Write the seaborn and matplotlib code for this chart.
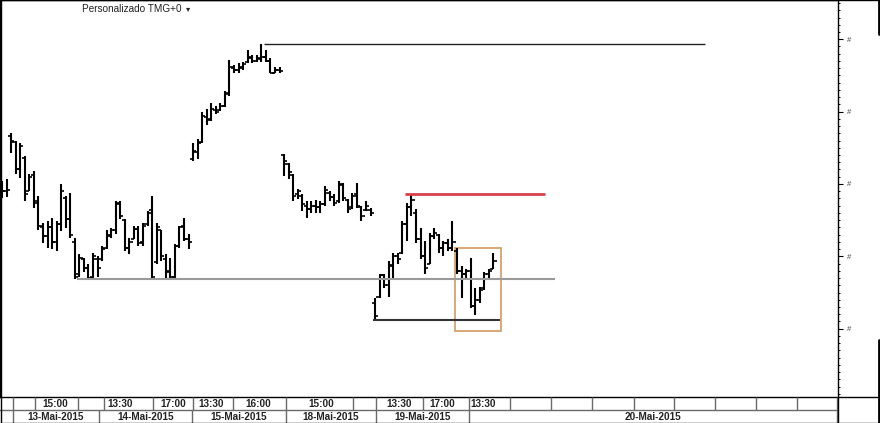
import matplotlib
matplotlib.use("Agg")
import matplotlib.pyplot as plt
from matplotlib.patches import Rectangle
from matplotlib.lines import Line2D
from matplotlib.ticker import MultipleLocator, FuncFormatter
import pandas as pd
import seaborn as sns

# OHLC (pontos), um bloco por pregao
high_13_14 = [57020, 57035, 57355, 57300, 57280, 57195, 57070, 57090, 56915, 56730, 56745, 56765, 56745, 57000,
              56915, 56935, 56625, 56515, 56485, 56445, 56520, 56500, 56570, 56685, 56695, 56880, 56880, 56755,
              56625, 56710, 56710, 56730, 56810, 56915, 56730, 56685, 56515, 56485, 56585, 56710, 56765, 56655]
low_13_14 = [56905, 56910, 57215, 57070, 57040, 56880, 56950, 56835, 56685, 56590, 56555, 56550, 56535, 56675,
             56695, 56625, 56340, 56360, 56395, 56340, 56340, 56360, 56465, 56550, 56625, 56655, 56755, 56535,
             56515, 56620, 56570, 56570, 56710, 56345, 56450, 56465, 56345, 56345, 56345, 56555, 56605, 56550]
open_13_14 = [56960, 56950, 57330, 57290, 57100, 57180, 56950, 57060, 56880, 56700, 56640, 56700, 56600, 56720,
              56900, 56760, 56600, 56380, 56480, 56420, 56360, 56480, 56480, 56560, 56640, 56680, 56860, 56750,
              56560, 56620, 56690, 56600, 56720, 56820, 56460, 56680, 56480, 56390, 56360, 56570, 56710, 56620]
close_13_14 = [56950, 56960, 57300, 57100, 57260, 56930, 57050, 56870, 56710, 56640, 56700, 56600, 56720, 56950,
               56760, 56650, 56360, 56490, 56420, 56350, 56500, 56420, 56550, 56650, 56680, 56870, 56780, 56560,
               56600, 56690, 56590, 56710, 56800, 56360, 56700, 56500, 56400, 56360, 56570, 56700, 56620, 56600]

high_15 = [57280, 57310, 57495, 57520, 57560, 57540, 57560, 57645, 57855, 57820, 57835, 57840, 57925, 57890,
           57890, 57970, 57925, 57870, 57805, 57810]
low_15 = [57160, 57175, 57280, 57405, 57435, 57485, 57505, 57530, 57610, 57765, 57770, 57785, 57835, 57835,
          57840, 57840, 57840, 57765, 57765, 57765]
open_15 = [57170, 57220, 57290, 57460, 57450, 57510, 57510, 57540, 57620, 57800, 57790, 57800, 57840, 57870,
           57850, 57860, 57880, 57850, 57770, 57790]
close_15 = [57230, 57280, 57470, 57440, 57520, 57500, 57540, 57630, 57810, 57790, 57810, 57830, 57880, 57850,
            57870, 57880, 57850, 57770, 57790, 57780]

high_18 = [57210, 57145, 57070, 56965, 56930, 56880, 56880, 56890, 56880, 56985, 56950, 56930, 57020, 57005,
           56895, 56935, 57005, 56845, 56880, 56835]
low_18 = [57055, 57035, 56880, 56895, 56810, 56765, 56800, 56800, 56800, 56845, 56880, 56845, 56870, 56880,
          56800, 56825, 56835, 56745, 56810, 56780]
open_18 = [57200, 57140, 57060, 56930, 56920, 56850, 56830, 56850, 56840, 56860, 56940, 56910, 56880, 56990,
           56890, 56840, 56930, 56840, 56820, 56820]
close_18 = [57160, 57080, 56920, 56950, 56860, 56830, 56850, 56840, 56860, 56960, 56910, 56870, 57000, 56900,
            56830, 56920, 56850, 56780, 56850, 56800]

high_19_20 = [56210, 56380, 56380, 56465, 56520, 56520, 56745, 56870, 56930, 56825, 56695, 56605, 56660, 56695,
              56655, 56605, 56620, 56745, 56555, 56430, 56410, 56485, 56280, 56290, 56395, 56410, 56520]
low_19_20 = [56060, 56210, 56280, 56220, 56345, 56445, 56515, 56605, 56780, 56590, 56480, 56380, 56445, 56620,
             56520, 56500, 56535, 56535, 56380, 56210, 56345, 56140, 56095, 56175, 56270, 56345, 56410]
open_19_20 = [56180, 56220, 56370, 56300, 56430, 56500, 56520, 56720, 56840, 56800, 56620, 56500, 56450, 56640,
              56650, 56560, 56590, 56560, 56540, 56400, 56380, 56400, 56160, 56200, 56280, 56380, 56410]
close_19_20 = [56090, 56370, 56300, 56440, 56500, 56480, 56720, 56840, 56890, 56620, 56500, 56420, 56640, 56660,
               56560, 56590, 56560, 56600, 56400, 56380, 56400, 56160, 56200, 56270, 56380, 56400, 56470]

# eixo de tempo (em posicoes de barra)
day_edges = [2.35, 21.4, 41.7, 62.4, 82.2, 102.7, 183.6]
day_labels = ["13-Mai-2015", "14-Mai-2015", "15-Mai-2015", "18-Mai-2015", "19-Mai-2015", "20-Mai-2015"]
time_edges = [2.35, 7.25, 16.64, 22.5, 33.25, 41.9, 50.8, 62.4, 77.1, 82.2, 92.5, 102.7, 111.6, 120.6,
              129.7, 138.8, 147.7, 156.7, 165.7, 174.8, 183.6]
time_pos = [11.76, 25.93, 37.7, 45.93, 56.4, 70.2, 87.25, 96.7, 105.7]
time_labels = ["15:00", "13:30", "17:00", "13:30", "16:00", "15:00", "13:30", "17:00", "13:30"]

# linhas desenhadas no grafico: (preco, inicio, fim)
support_gray = (56340, 16.5, 121.5)
top_black = (57970, 57.6, 154.5)
red_level = (56930, 88.6, 119.3)
bottom_black = (56060, 81.5, 109.5)
box_x = (99.6, 109.7)
box_y = (55985, 56555)

df = pd.DataFrame({
    "open": open_13_14 + open_15 + open_18 + open_19_20,
    "high": high_13_14 + high_15 + high_18 + high_19_20,
    "low": low_13_14 + low_15 + low_18 + low_19_20,
    "close": close_13_14 + close_15 + close_18 + close_19_20,
})
df["slot"] = range(len(df))

sns.set_style("white")
plt.rcParams["font.family"] = ["Liberation Sans", "DejaVu Sans"]

W, H = 880, 423
fig = plt.figure(figsize=(W / 100, H / 100), dpi=100)
ax = fig.add_axes([0, 26 / H, 838 / W, 397 / H])

ax.vlines(df["slot"], df["low"], df["high"], color="black", lw=1.5)
ax.hlines(df["open"], df["slot"] - 0.7, df["slot"], color="black", lw=1.2)
ax.hlines(df["close"], df["slot"], df["slot"] + 0.7, color="black", lw=1.2)

ax.hlines(support_gray[0], support_gray[1], support_gray[2], color="#9a9a9a", lw=1.5)
ax.hlines(top_black[0], top_black[1], top_black[2], color="#222222", lw=1.0)
ax.hlines(red_level[0], red_level[1], red_level[2], color="#d9414a", lw=2.0)
ax.hlines(bottom_black[0], bottom_black[1], bottom_black[2], color="#333333", lw=1.5)
ax.add_patch(Rectangle((box_x[0], box_y[0]), box_x[1] - box_x[0], box_y[1] - box_y[0],
                       fill=False, edgecolor="#d9a06a", lw=1.3))

ax.set_xlim(-0.44, 183.74)
ax.set_ylim(55528, 58271)
ax.set_xticks([])
ax.yaxis.tick_right()
ax.yaxis.set_major_locator(MultipleLocator(500))
ax.yaxis.set_minor_locator(MultipleLocator(50))
ax.yaxis.set_major_formatter(FuncFormatter(lambda v, p: "#"))
ax.tick_params(axis="y", which="major", direction="out", length=3.5, width=0.8, color="black",
               labelsize=5.5, labelcolor="#444444", pad=3)
ax.tick_params(axis="y", which="minor", direction="out", length=1.6, width=0.7, color="black")
for s in ax.spines.values():
    s.set_color("black")
    s.set_linewidth(1.0)

# faixa de datas/horas
tx = fig.add_axes([0, 0, 838 / W, 26 / H])
tx.set_xlim(-0.44, 183.74)
tx.set_ylim(0, 2)
tx.axis("off")
tx.vlines(time_edges, 1, 2, color="#6a6a6a", lw=1.0)
tx.vlines(day_edges, 0, 1, color="#6a6a6a", lw=1.0)
tx.axhline(1, color="#6a6a6a", lw=1.0)
for p, t in zip(time_pos, time_labels):
    tx.text(p, 1.5, t, ha="center", va="center", fontsize=7.2, fontweight="bold", color="#222222")
for i, t in enumerate(day_labels):
    tx.text((day_edges[i] + day_edges[i + 1]) / 2, 0.5, t, ha="center", va="center",
            fontsize=7.2, fontweight="bold", color="#222222")


def fline(x0, y0, x1, y1, lw=1.0, c="black"):
    fig.add_artist(Line2D([x0 / W, x1 / W], [1 - y0 / H, 1 - y1 / H], color=c, lw=lw))


fline(0, 0.5, W, 0.5)
fline(0.5, 0, 0.5, H)
fline(0, H - 0.5, W, H - 0.5)
fline(838, 397, W, 397)
fline(838, 397, 838, H)
fline(879, 0, 879, 34, lw=2)
fline(879, 340, 879, H, lw=2)

fig.text(82 / W, 1 - 9 / H, "Personalizado TMG+0", fontsize=7.2, color="#222222",
         ha="left", va="center")
fig.text(186 / W, 1 - 9 / H, "\u25be", fontsize=6, color="#222222", ha="left", va="center",
         family=["DejaVu Sans"])

fig.savefig("out.png", dpi=100)
